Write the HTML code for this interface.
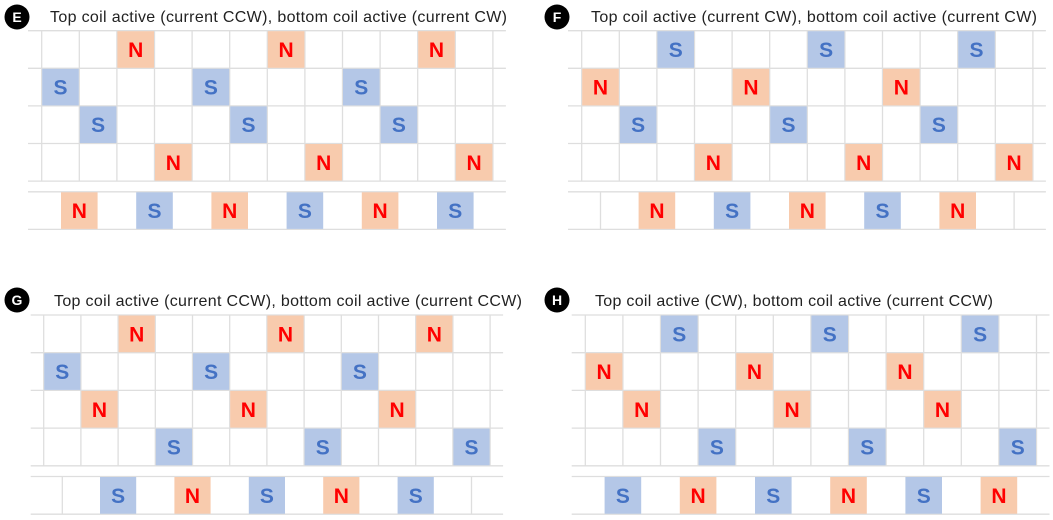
<!DOCTYPE html>
<html><head><meta charset="utf-8"><style>
html,body{margin:0;padding:0;background:#fff;width:1053px;height:520px;overflow:hidden}
svg text{font-family:"Liberation Sans","DejaVu Sans",sans-serif}
</style></head><body>
<svg id="s" width="1053" height="520" viewBox="0 0 1053 520"></svg>
<script>
// panel labels and titles
const panelLetters = ["E","F","G","H"];
const panelTitles = [
 "Top coil active (current CCW), bottom coil active (current CW)",
 "Top coil active (current CW), bottom coil active (current CW)",
 "Top coil active (current CCW), bottom coil active (current CCW)",
 "Top coil active (CW), bottom coil active (current CCW)"
];
// rows: pole letter and column indices, per panel
const row1 = [["N",[2,6,10]],["S",[2,6,10]],["N",[2,6,10]],["S",[2,6,10]]];
const row2 = [["S",[0,4,8]],["N",[0,4,8]],["S",[0,4,8]],["N",[0,4,8]]];
const row3 = [["S",[1,5,9]],["S",[1,5,9]],["N",[1,5,9]],["N",[1,5,9]]];
const row4 = [["N",[3,7,11]],["N",[3,7,11]],["S",[3,7,11]],["S",[3,7,11]]];
// bottom row sequences and starting column
const bottomSeq = [["N","S","N","S","N","S"],["N","S","N","S","N"],["S","N","S","N","S"],["S","N","S","N","S","N"]];
const bottomStart = [0.5,1.5,1.5,0.5];
const bottomEdges = [false,true,true,false];

// layout (not data)
const layout = [
 {gx:28,c0:41.7,cw:37.6,top:30.7,rh:37.6,badge:[17,17],tx:50,ty:22,tl:457},
 {gx:568,c0:581.7,cw:37.6,top:30.7,rh:37.6,badge:[557,17],tx:591,ty:22,tl:446},
 {gx:30.7,c0:43.7,cw:37.2,top:315,rh:37.7,badge:[17,300],tx:54,ty:306,tl:468},
 {gx:571.7,c0:585.3,cw:37.6,top:315,rh:37.7,badge:[557,300],tx:595,ty:306,tl:398}
];
const NS="http://www.w3.org/2000/svg", svg=document.getElementById('s');
function mk(t,a,p){const e=document.createElementNS(NS,t);for(const k in a)e.setAttribute(k,a[k]);(p||svg).appendChild(e);return e;}
const GRID="#dedede";
function cell(g,L,x,y,pole){
  const r=mk('rect',{x:x+0.5,y:y+0.5,width:L.cw-1,height:L.rh-1,fill:pole==="N"?"#f8cbad":"#b4c7e7"},g);
  
  
  const t=mk('text',{x:x+L.cw/2,y:y+L.rh/2+7.5,'text-anchor':'middle','font-size':'21','font-weight':'bold',fill:pole==="N"?"#ff0000":"#4472c4"},g);
  t.textContent=pole;
  
  
}
for(let p=0;p<4;p++){
  const L=layout[p];
  const g=mk('g',{});
  
  
  const right=L.c0+12*L.cw+13;
  const c=mk('circle',{cx:L.badge[0],cy:L.badge[1],r:12.5,fill:"#000"},g);
  
  
  const bl=mk('text',{x:L.badge[0],y:L.badge[1]+5,'text-anchor':'middle','font-size':'14','font-weight':'bold',fill:"#fff"},g);
  bl.textContent=panelLetters[p];
  
  
  const tt=mk('text',{x:L.tx,y:L.ty,'font-size':'16',fill:"#222",textLength:L.tl,lengthAdjust:'spacing'},g);
  tt.textContent=panelTitles[p];
  
  
  for(let i=0;i<=4;i++){const y=L.top+i*L.rh;const l=mk('line',{x1:L.gx,x2:right,y1:y,y2:y,stroke:GRID,'stroke-width':1.3},g);}
  for(let i=0;i<=12;i++){const x=L.c0+i*L.cw;const l=mk('line',{x1:x,x2:x,y1:L.top,y2:L.top+4*L.rh,stroke:GRID,'stroke-width':1.3},g);}
  const bTop=L.top+4*L.rh+10.7, bBot=bTop+L.rh;
  [bTop,bBot].forEach(y=>{const l=mk('line',{x1:L.gx,x2:right,y1:y,y2:y,stroke:GRID,'stroke-width':1.3},g);});
  if(bottomEdges[p]){[0.5,11.5].forEach(c=>{const x=L.c0+c*L.cw;const l=mk('line',{x1:x,x2:x,y1:bTop,y2:bBot,stroke:GRID,'stroke-width':1.3},g);});}
  [row1,row2,row3,row4].forEach((rw,ri)=>{
    const [pole,cols]=rw[p];
    cols.forEach(c=>cell(g,L,L.c0+c*L.cw,L.top+ri*L.rh,pole));
  });
  bottomSeq[p].forEach((pole,i)=>cell(g,L,L.c0+(bottomStart[p]+2*i)*L.cw,bTop,pole));
}
</script>
</body></html>
